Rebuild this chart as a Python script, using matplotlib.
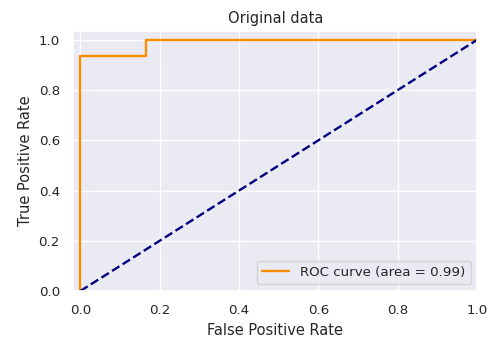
import matplotlib
matplotlib.use("Agg")
import matplotlib.pyplot as plt
import seaborn as sns

sns.set_theme(style="darkgrid", font_scale=0.88)
plt.rcParams['font.family'] = ['DejaVu Sans']

# ROC curve points
fpr = [0.0, 0.0, 0.1667, 0.1667, 1.0]
tpr = [0.0, 0.9333, 0.9333, 1.0, 1.0]
roc_auc = 0.99
chance = [0.0, 1.0]

fig, ax = plt.subplots(figsize=(4.91, 3.40), dpi=100)
ax.plot(fpr, tpr, color="darkorange", lw=1.7, label="ROC curve (area = %0.2f)" % roc_auc)
ax.plot(chance, chance, color="navy", lw=1.7, linestyle="--")
ax.set_xlim(-0.018, 1.0)
ax.set_ylim(0.0, 1.035)
ax.set_xlabel("False Positive Rate")
ax.set_ylabel("True Positive Rate")
ax.set_title("Original data")
ax.legend(loc="lower right")
fig.subplots_adjust(left=0.149, right=0.972, bottom=0.144, top=0.909)
fig.savefig("out.png", dpi=100)
